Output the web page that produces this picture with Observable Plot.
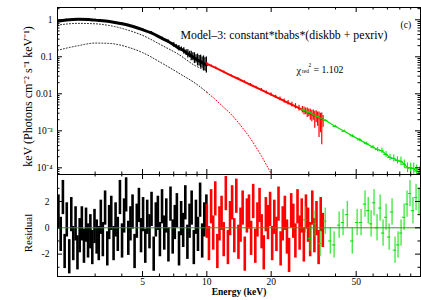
<!DOCTYPE html>
<html><head><meta charset="utf-8">
<script src="https://cdn.jsdelivr.net/npm/d3@7"></script>
<script src="https://cdn.jsdelivr.net/npm/@observablehq/plot@0.6"></script>
<style>
body{margin:0;background:#fff;}
#chart{position:relative;width:421px;height:300px;overflow:hidden;background:#fff;}
#chart svg{position:absolute;left:0;background:transparent;}
</style></head><body><div id="chart"></div>
<script>
// ---------- data ----------
const xDomain = [2, 100];
const fluxDomain = [6.6e-5, 2.15];
const residDomain = [-3.7, 4.05];

const xTickLabels = [5, 10, 20, 50];
const fluxTickValues = [1, 0.1, 0.01, 0.001, 0.0001];
const fluxTickLabels = ["1", "0.1", "0.01", "10⁻³", "10⁻⁴"];
const residTickValues = [2, 0, -2];
const residTickLabels = ["2", "0", "-2"];

// unfolded spectrum (keV Photons cm^-2 s^-1 keV^-1)
const blackE = [2.0, 2.2, 2.5, 2.8, 3.0, 3.5, 4.0, 4.3, 5.0, 5.5, 6.2, 6.6, 7.0, 7.2, 7.4, 7.6, 7.8, 8.0, 8.15, 8.3, 8.45, 8.6, 8.75, 8.9, 9.05, 9.2, 9.35, 9.5, 9.65, 9.8, 9.95];
const blackF = [0.92, 0.99, 1.04, 1.02, 0.98, 0.90, 0.78, 0.71, 0.54, 0.44, 0.31, 0.26, 0.21, 0.19, 0.17, 0.16, 0.145, 0.13, 0.12, 0.115, 0.105, 0.10, 0.092, 0.088, 0.082, 0.078, 0.074, 0.07, 0.066, 0.063, 0.06];
const blackErr = [0.05, 0.05, 0.05, 0.05, 0.05, 0.05, 0.06, 0.06, 0.07, 0.08, 0.09, 0.10, 0.14, 0.12, 0.18, 0.15, 0.22, 0.2, 0.3, 0.22, 0.35, 0.28, 0.4, 0.3, 0.45, 0.38, 0.5, 0.42, 0.6, 0.5, 0.65];

const redE = [10.0, 10.5, 11, 12, 13, 14, 15, 16, 17, 18, 19, 20, 21, 22, 23, 24, 25, 26, 27, 28, 28.5, 29, 29.5, 30, 30.5, 31, 31.5, 32, 32.5, 33, 33.5, 34, 34.5, 35];
const redF = [0.065, 0.057, 0.050, 0.039, 0.031, 0.0255, 0.021, 0.0176, 0.0149, 0.0127, 0.0109, 0.0095, 0.0083, 0.0073, 0.0064, 0.0057, 0.0051, 0.0046, 0.0041, 0.0037, 0.0035, 0.0034, 0.0032, 0.0031, 0.0029, 0.0028, 0.0027, 0.0026, 0.0025, 0.0024, 0.0023, 0.0022, 0.0021, 0.0020];
const redErrUp = [0.08, 0.06, 0.06, 0.06, 0.06, 0.07, 0.07, 0.08, 0.08, 0.09, 0.1, 0.1, 0.11, 0.12, 0.13, 0.15, 0.16, 0.18, 0.2, 0.22, 0.25, 0.22, 0.3, 0.25, 0.32, 0.28, 0.35, 0.3, 0.4, 0.35, 0.4, 0.35, 0.45, 0.3];
const redErrDn = [0.08, 0.06, 0.06, 0.06, 0.06, 0.07, 0.07, 0.08, 0.08, 0.09, 0.1, 0.1, 0.11, 0.12, 0.13, 0.15, 0.16, 0.18, 0.2, 0.22, 0.3, 0.25, 0.4, 0.3, 0.5, 0.6, 0.4, 1.2, 0.5, 0.8, 2.5, 1.5, 4.0, 0.6];

const greenE = [28, 30, 33, 36, 40, 44, 48, 52, 56, 60, 63, 66, 69, 72, 75, 78, 81, 84, 87, 90, 93, 96, 99];
const greenF = [0.0037, 0.0032, 0.0024, 0.0019, 0.00131, 0.00097, 0.00073, 0.00057, 0.00045, 0.00036, 0.00031, 0.00029, 0.00023, 0.00019, 0.000179, 0.000158, 0.00015, 0.000125, 0.0001, 0.0001, 0.000095, 0.000082, 0.00007];
const greenErr = [0.05, 0.05, 0.06, 0.06, 0.07, 0.08, 0.08, 0.09, 0.1, 0.12, 0.15, 0.18, 0.2, 0.22, 0.25, 0.25, 0.3, 0.3, 0.35, 0.35, 0.4, 0.45, 0.5];

// model components (dotted)
const pexE = [2.0, 2.5, 3.0, 3.5, 4.3, 5.0, 6.2, 7.4, 8.8, 10.0];
const pexF = [0.72, 0.80, 0.78, 0.70, 0.52, 0.38, 0.20, 0.115, 0.058, 0.042];
const diskBlackE = [2.0, 2.5, 3.0, 3.5, 4.3, 5.0, 6.2, 7.4, 9.1, 10.0];
const diskBlackF = [0.15, 0.20, 0.235, 0.23, 0.18, 0.13, 0.066, 0.036, 0.017, 0.011];
const diskRedE = [10.0, 11, 12, 13, 14, 15, 16, 17, 18, 19, 20];
const diskRedF = [0.011, 0.0069, 0.0043, 0.0028, 0.0017, 0.00103, 0.00062, 0.00036, 0.00021, 0.00012, 0.00007];

// residuals ((data-model)/error, error bars of +-residErr)
const residErr = 1.3;
const blackResE = [2.02, 2.07, 2.12, 2.16, 2.21, 2.27, 2.32, 2.37, 2.43, 2.48,
  2.54, 2.60, 2.66, 2.72, 2.78, 2.85, 2.91, 2.98, 3.05, 3.12,
  3.19, 3.26, 3.34, 3.42, 3.49, 3.57, 3.66, 3.74, 3.83, 3.92,
  4.01, 4.10, 4.19, 4.29, 4.39, 4.49, 4.59, 4.70, 4.81, 4.92,
  5.03, 5.15, 5.26, 5.39, 5.51, 5.64, 5.77, 5.90, 6.03, 6.17,
  6.32, 6.46, 6.61, 6.76, 6.92, 7.08, 7.24, 7.41, 7.58, 7.75,
  7.93, 8.11, 8.30, 8.49, 8.69, 8.89, 9.09, 9.30, 9.51, 9.73, 9.95];
const blackRes = [1.2, -0.5, 2.3, -1.8, 0.6, -2.2, 1.0, -1.2, 0.3, -1.9,
  -0.6, 0.3, -1.4, 0.2, -1.0, -0.3, -1.5, 0.1, -0.7, -1.2,
  0.8, -0.9, 1.5, -1.6, 0.4, 1.1, -1.2, 0.6, -0.5, 2.3,
  -1.0, 0.9, 2.5, -0.8, 0.3, 1.2, -1.8, 0.5, 1.7, -0.6,
  1.0, -1.4, 0.8, -0.3, 1.4, -2.0, 0.6, 1.1, -0.9, 1.6,
  -0.4, 0.9, -1.3, 1.8, -0.7, 0.4, 1.3, -1.6, 0.7, -0.2,
  1.9, -1.1, 0.5, 1.5, -1.5, 0.8, -0.5, 2.1, -1.0, 0.6, 1.2];
const redResE = [10.0, 10.23, 10.47, 10.71, 10.95, 11.2, 11.46, 11.72, 11.99, 12.27,
  12.55, 12.84, 13.13, 13.44, 13.74, 14.06, 14.38, 14.71, 15.05, 15.40,
  15.75, 16.11, 16.48, 16.86, 17.25, 17.65, 18.05, 18.47, 18.89, 19.33,
  19.77, 20.22, 20.69, 21.17, 21.65, 22.15, 22.66, 23.18, 23.71, 24.26,
  24.82, 25.39, 25.97, 26.57, 27.18, 27.80, 28.44, 29.10, 29.77, 30.45,
  31.15, 31.87, 32.60, 33.35, 34.12, 34.90];
const redRes = [0.5, -1.2, 1.6, -0.4, 2.2, -1.8, 0.3, 1.1, -0.9, 2.6,
  -1.5, 0.7, 1.9, -0.6, 2.4, -1.1, 0.2, 1.5, -2.0, 0.9,
  1.2, -0.8, 2.0, -1.4, 0.6, 1.7, -0.3, -1.9, 1.0, 0.4,
  1.4, -1.2, 0.8, -0.5, 1.8, -1.6, 0.3, 1.1, -0.7, -2.1,
  1.3, 0.5, -1.0, 1.6, -0.4, 0.9, -1.3, 1.2, 0.2, -0.9,
  1.5, -0.6, 0.7, -1.5, 1.0, -0.2];
const greenResE = [28.9, 30.4, 32.1, 33.9, 35.8, 37.8, 39.4, 41.6, 43.4, 45.4, 47.9, 50.5, 52.7, 55.0, 56.9, 58.7, 60.6, 62.6, 64.7, 66.8, 69.0, 71.3, 73.6, 76.0, 78.5, 81.1, 83.8, 86.5, 89.3, 92.2, 95.3, 98.4];
const greenRes = [0.6, -0.8, 0.3, -1.2, 0.5, -1.0, -1.3, 0.2, 0.4, 1.0, -1.0, 0.4, 0.4, 1.8, 1.3, 0.3, 1.9, 0.0, 1.5, -0.4, 0.8, -0.7, 1.2, -1.7, -1.3, -0.4, 0.8, 1.8, 2.6, 1.3, 2.3, 2.0];

const modelTitle = "Model–3: constant*tbabs*(diskbb + pexriv)";
const chiValue = "= 1.102";
const panelTag = "(c)";
const yLabelTop = "keV (Photons cm⁻² s⁻¹ keV⁻¹)";
const yLabelBottom = "Residual";
const xLabel = "Energy (keV)";

// ---------- build ----------
const FONT = "'Liberation Serif', 'Times New Roman', Times, serif";
const RED = "#ff0000", GREEN = "#00e000", ZERO = "#22a022";
const W = 421, ML = 57, MR = 1;
const innerW = W - ML - MR;

const xMajor = [5, 10, 20, 50];
const xMinor = [2, 3, 4, 6, 7, 8, 9, 30, 40, 60, 70, 80, 90];
const fluxMinor = [];
for (let p = -5; p <= 0; p++) for (let m = 2; m <= 9; m++) {
  const v = m * Math.pow(10, p);
  if (v > fluxDomain[0] && v < fluxDomain[1]) fluxMinor.push(v);
}
const residMajor = [-2, 0, 2];
const residMinor = [-3, -1, 1, 3];

function tickMarks(innerH, yMajor, yMinor) {
  const maj = 5, min = 2.5;
  const s = {stroke: "black", strokeWidth: 1};
  return [
    Plot.ruleX(xMajor, {x: d => d, insetBottom: innerH - maj, ...s}),
    Plot.ruleX(xMajor, {x: d => d, insetTop: innerH - maj, ...s}),
    Plot.ruleX(xMinor, {x: d => d, insetBottom: innerH - min, ...s}),
    Plot.ruleX(xMinor, {x: d => d, insetTop: innerH - min, ...s}),
    Plot.ruleY(yMajor, {y: d => d, insetRight: innerW - maj, ...s}),
    Plot.ruleY(yMajor, {y: d => d, insetLeft: innerW - maj, ...s}),
    Plot.ruleY(yMinor, {y: d => d, insetRight: innerW - min, ...s}),
    Plot.ruleY(yMinor, {y: d => d, insetLeft: innerW - min, ...s})
  ];
}

const black = blackE.map((e, i) => ({e, f: blackF[i], lo: blackF[i] / (1 + blackErr[i]), hi: blackF[i] * (1 + blackErr[i])}));
const red = redE.map((e, i) => ({e, f: redF[i], lo: redF[i] / (1 + redErrDn[i]), hi: redF[i] * (1 + redErrUp[i])}));
const green = greenE.map((e, i) => ({e, f: greenF[i], lo: greenF[i] / (1 + greenErr[i]), hi: greenF[i] * (1 + greenErr[i])}));
const pex = pexE.map((e, i) => ({e, f: pexF[i]}));
const diskB = diskBlackE.map((e, i) => ({e, f: diskBlackF[i]}));
const diskR = diskRedE.map((e, i) => ({e, f: diskRedF[i]}));

const topH = 175, topMT = 7, topMB = 1;
const topInnerH = topH - topMT - topMB;

const upperPlot = Plot.plot({
  width: W, height: topH, marginLeft: ML, marginRight: MR, marginTop: topMT, marginBottom: topMB,
  style: {fontFamily: FONT, fontSize: "10px", background: "transparent", color: "black"},
  x: {type: "log", domain: xDomain, axis: null},
  y: {type: "log", domain: fluxDomain, axis: null},
  marks: [
    Plot.line(pex, {x: "e", y: "f", stroke: "#222", strokeWidth: 1, strokeDasharray: "1,2", curve: "monotone-x", clip: true}),
    Plot.line(diskB, {x: "e", y: "f", stroke: "#222", strokeWidth: 1, strokeDasharray: "1,2", curve: "monotone-x", clip: true}),
    Plot.line(diskR, {x: "e", y: "f", stroke: RED, strokeWidth: 1, strokeDasharray: "1,2", curve: "monotone-x", clip: true}),
    Plot.ruleX(black, {x: "e", y1: "lo", y2: "hi", stroke: "black", strokeWidth: 1.3, clip: true}),
    Plot.line(black, {x: "e", y: "f", stroke: "black", strokeWidth: 3, curve: "monotone-x", clip: true}),
    Plot.ruleX(red, {x: "e", y1: "lo", y2: "hi", stroke: RED, strokeWidth: 1.2, clip: true}),
    Plot.line(red, {x: "e", y: "f", stroke: RED, strokeWidth: 2, clip: true}),
    Plot.ruleX(green, {x: "e", y1: "lo", y2: "hi", stroke: GREEN, strokeWidth: 1, clip: true}),
    Plot.ruleY(green, {y: "f", x1: d => d.e / 1.025, x2: d => d.e * 1.025, stroke: GREEN, strokeWidth: 1, clip: true}),
    Plot.line(green, {x: "e", y: "f", stroke: GREEN, strokeWidth: 1.2, clip: true}),
    Plot.frame({stroke: "black", strokeWidth: 1}),
    ...tickMarks(topInnerH, fluxTickValues, fluxMinor),
    Plot.text(fluxTickValues, {y: d => d, text: (d, i) => fluxTickLabels[i], frameAnchor: "left", dx: -5, textAnchor: "end", fontSize: 9.5}),
    Plot.text([yLabelTop], {frameAnchor: "left", textAnchor: "middle", rotate: -90, dx: -29, dy: 5.5, fontSize: 12}),
    Plot.text([modelTitle], {frameAnchor: "top-left", dx: 123, dy: 23.5, textAnchor: "start", fontSize: 11.8}),
    Plot.text(["χ"], {frameAnchor: "top-left", dx: 239, dy: 59, textAnchor: "start", fontSize: 10}),
    Plot.text(["red"], {frameAnchor: "top-left", dx: 244.5, dy: 62, textAnchor: "start", fontSize: 5.5}),
    Plot.text(["2"], {frameAnchor: "top-left", dx: 251, dy: 55.5, textAnchor: "start", fontSize: 5.5}),
    Plot.text([chiValue], {frameAnchor: "top-left", dx: 256, dy: 59, textAnchor: "start", fontSize: 9.8}),
    Plot.text([panelTag], {frameAnchor: "top-left", dx: 343, dy: 14, textAnchor: "start", fontSize: 9.5})
  ]
});

const botH = 126, botMT = 0, botMB = 24;
const botInnerH = botH - botMT - botMB;
const bres = blackResE.map((e, i) => ({e, r: blackRes[i]}));
const rres = redResE.map((e, i) => ({e, r: redRes[i]}));
const gres = greenResE.map((e, i) => ({e, r: greenRes[i]}));

const lowerPlot = Plot.plot({
  width: W, height: botH, marginLeft: ML, marginRight: MR, marginTop: botMT, marginBottom: botMB,
  style: {fontFamily: FONT, fontSize: "10px", background: "transparent", color: "black"},
  x: {type: "log", domain: xDomain, axis: null},
  y: {domain: residDomain, axis: null},
  marks: [
    Plot.ruleX(bres, {x: "e", y1: d => d.r - residErr, y2: d => d.r + residErr, stroke: "black", strokeWidth: 2.6, clip: true}),
    Plot.ruleX(rres, {x: "e", y1: d => d.r - residErr, y2: d => d.r + residErr, stroke: RED, strokeWidth: 2.6, clip: true}),
    Plot.ruleX(gres, {x: "e", y1: d => d.r - 1, y2: d => d.r + 1, stroke: GREEN, strokeWidth: 1, clip: true}),
    Plot.ruleY(gres, {y: "r", x1: d => d.e / 1.018, x2: d => d.e * 1.018, stroke: GREEN, strokeWidth: 1, clip: true}),
    Plot.ruleY([0], {stroke: ZERO, strokeWidth: 1}),
    Plot.frame({stroke: "black", strokeWidth: 1}),
    ...tickMarks(botInnerH, residMajor, residMinor),
    Plot.text(residTickValues, {y: d => d, text: (d, i) => residTickLabels[i], frameAnchor: "left", dx: -8, textAnchor: "end", fontSize: 9.5}),
    Plot.text([yLabelBottom], {frameAnchor: "left", textAnchor: "middle", rotate: -90, dx: -29.5, dy: 7.5, fontSize: 11}),
    Plot.text(xTickLabels, {x: d => d, text: d => String(d), frameAnchor: "bottom", dy: 8.5, fontSize: 9.5}),
    Plot.text([xLabel], {frameAnchor: "bottom", dy: 18, fontSize: 9.5, fontWeight: "bold"})
  ]
});

const chart = document.getElementById("chart");
upperPlot.style.top = "0px";
lowerPlot.style.top = "174px";
chart.appendChild(upperPlot);
chart.appendChild(lowerPlot);
</script>
</body></html>
